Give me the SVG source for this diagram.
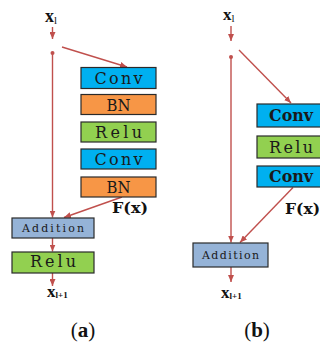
<svg xmlns="http://www.w3.org/2000/svg" width="320" height="344" viewBox="0 0 320 344">
  <style>
    .box { stroke: #2a2a2a; stroke-width: 1.2; }
    .conv { fill: #00B0F0; }
    .bn { fill: #F79646; }
    .relu { fill: #92D050; }
    .add { fill: #95B3D7; }
    .lbl { font-family: "DejaVu Serif", "Liberation Serif", serif; fill: #1a1a1a; text-anchor: middle; }
    .fx { font-family: "DejaVu Serif", "Liberation Serif", serif; fill: #111; font-weight: bold; }
    .var { font-family: "Liberation Serif", "Times New Roman", serif; fill: #111; }
    .wire { stroke: #C0504D; stroke-width: 1.4; fill: none; }
    .cap { font-family: "Liberation Serif", "Times New Roman", serif; font-size: 21px; fill: #111; text-anchor: middle; }
  </style>
  <defs>
    <marker id="arrow" markerUnits="userSpaceOnUse" markerWidth="8" markerHeight="6" refX="7" refY="3" orient="auto">
      <path d="M0,0 L7,3 L0,6 z" fill="#C0504D"/>
    </marker>
  </defs>

  <!-- connectors -->
  <g id="connectors">
    <!-- panel a -->
    <line class="wire" x1="52.5" y1="27" x2="52.5" y2="39" marker-end="url(#arrow)"/>
    <circle cx="52.5" cy="53" r="2" fill="#C0504D"/>
    <line class="wire" x1="52.5" y1="53" x2="52.5" y2="217.5" marker-end="url(#arrow)"/>
    <line class="wire" x1="62" y1="47" x2="127" y2="67" marker-end="url(#arrow)"/>
    <line class="wire" x1="122" y1="197" x2="64" y2="217.5" marker-end="url(#arrow)"/>
    <line class="wire" x1="52.5" y1="238" x2="52.5" y2="251.5" marker-end="url(#arrow)"/>
    <line class="wire" x1="52.5" y1="273" x2="52.5" y2="286" marker-end="url(#arrow)"/>
    <!-- panel b -->
    <line class="wire" x1="231" y1="26" x2="231" y2="41" marker-end="url(#arrow)"/>
    <circle cx="231" cy="57" r="2" fill="#C0504D"/>
    <line class="wire" x1="231" y1="57" x2="231" y2="242.5" marker-end="url(#arrow)"/>
    <line class="wire" x1="239" y1="50" x2="291" y2="103" marker-end="url(#arrow)"/>
    <line class="wire" x1="293" y1="187.5" x2="240" y2="242.5" marker-end="url(#arrow)"/>
    <line class="wire" x1="231" y1="267" x2="231" y2="282" marker-end="url(#arrow)"/>
  </g>

  <!-- panel a: input -->
  <g id="a-input">
    <text class="var" x="45" y="22" font-size="18" font-weight="bold">x<tspan font-size="11" font-weight="normal" dy="2">l</tspan></text>
  </g>

  <!-- panel a: residual branch -->
  <g id="a-conv1">
    <rect class="box conv" x="81" y="67.5" width="75" height="21"/>
    <text class="lbl" x="118.5" y="83.5" font-size="16" textLength="48" lengthAdjust="spacing">Conv</text>
  </g>
  <g id="a-bn1">
    <rect class="box bn" x="81" y="94.5" width="75" height="20"/>
    <text class="lbl" x="118.5" y="111" font-size="16" textLength="24" lengthAdjust="spacingAndGlyphs">BN</text>
  </g>
  <g id="a-relu1">
    <rect class="box relu" x="81" y="122" width="75" height="20"/>
    <text class="lbl" x="118.5" y="137.5" font-size="16" textLength="47" lengthAdjust="spacing">Relu</text>
  </g>
  <g id="a-conv2">
    <rect class="box conv" x="81" y="149" width="75" height="20"/>
    <text class="lbl" x="118.5" y="165" font-size="16" textLength="48" lengthAdjust="spacing">Conv</text>
  </g>
  <g id="a-bn2">
    <rect class="box bn" x="81" y="177" width="75" height="20"/>
    <text class="lbl" x="118.5" y="192.5" font-size="16" textLength="24" lengthAdjust="spacingAndGlyphs">BN</text>
  </g>
  <g id="a-fx">
    <text class="fx" x="112" y="213" font-size="14" textLength="36" lengthAdjust="spacingAndGlyphs">F(x)</text>
  </g>

  <!-- panel a: merge -->
  <g id="a-addition">
    <rect class="box add" x="12" y="218" width="82" height="20"/>
    <text class="lbl" x="53" y="232" font-size="11" textLength="62" lengthAdjust="spacing">Addition</text>
  </g>
  <g id="a-relu2">
    <rect class="box relu" x="12" y="252" width="82" height="21"/>
    <text class="lbl" x="53" y="266.5" font-size="16" textLength="46" lengthAdjust="spacing">Relu</text>
  </g>
  <g id="a-output">
    <text class="var" x="47" y="297" font-size="17" font-weight="bold">x<tspan font-size="9" dy="1">l+1</tspan></text>
  </g>
  <text class="cap" x="83" y="337">(<tspan font-weight="bold">a</tspan>)</text>

  <!-- panel b: input -->
  <g id="b-input">
    <text class="var" x="223" y="20" font-size="17" font-weight="bold">x<tspan font-size="11" font-weight="normal" dy="2">l</tspan></text>
  </g>

  <!-- panel b: residual branch -->
  <g id="b-conv1">
    <rect class="box conv" x="257" y="104" width="66" height="23"/>
    <text class="lbl" x="291" y="121" font-size="16" font-weight="bold" textLength="44" lengthAdjust="spacingAndGlyphs">Conv</text>
  </g>
  <g id="b-relu">
    <rect class="box relu" x="257" y="136" width="66" height="22"/>
    <text class="lbl" x="291" y="153" font-size="16" textLength="44" lengthAdjust="spacing">Relu</text>
  </g>
  <g id="b-conv2">
    <rect class="box conv" x="257" y="166" width="66" height="21"/>
    <text class="lbl" x="291" y="182" font-size="16" font-weight="bold" textLength="44" lengthAdjust="spacingAndGlyphs">Conv</text>
  </g>
  <g id="b-fx">
    <text class="fx" x="285" y="214" font-size="14" textLength="35" lengthAdjust="spacingAndGlyphs">F(x)</text>
  </g>

  <!-- panel b: merge -->
  <g id="b-addition">
    <rect class="box add" x="193" y="243" width="75" height="24"/>
    <text class="lbl" x="230.5" y="258.5" font-size="11" textLength="57" lengthAdjust="spacing">Addition</text>
  </g>
  <g id="b-output">
    <text class="var" x="221" y="298" font-size="17" font-weight="bold">x<tspan font-size="9" dy="1">l+1</tspan></text>
  </g>
  <text class="cap" x="257" y="337">(<tspan font-weight="bold">b</tspan>)</text>
</svg>
